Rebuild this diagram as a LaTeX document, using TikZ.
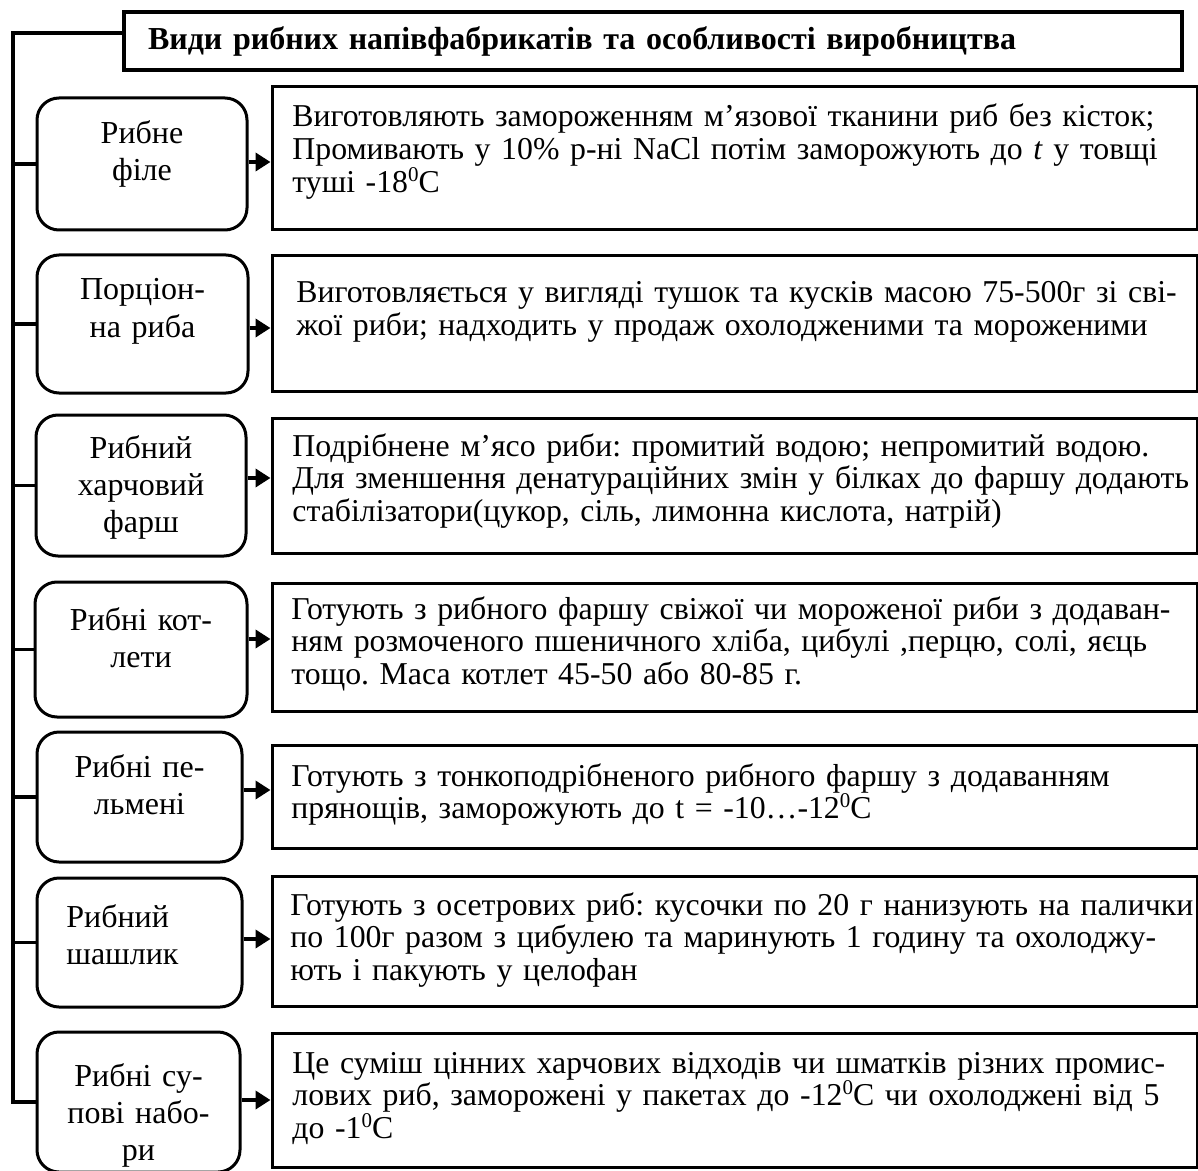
\documentclass[tikz,border=0pt]{standalone}
\usepackage{fontspec}
\setmainfont{Liberation Serif}
\usetikzlibrary{arrows.meta}
\frenchspacing
\newcommand{\zerosup}{\smash{\raisebox{0.36em}{\fontsize{10.5}{10}\selectfont 0}}}

\tikzset{
  box/.style={draw, line width=1.5pt, inner sep=0pt},
  rbox/.style={box, rounded corners=11pt},
  tbox/.style={box, minimum width=462.5pt},
  kind/.style={anchor=base, inner sep=0pt, text width=104pt, align=center,
    font=\fontsize{16}{18.5}\selectfont},
  desc/.style={anchor=base west, inner sep=0pt, text width=470pt, align=left,
    font=\fontsize{15.9}{16.4}\selectfont},
  arr/.style={-{Triangle[length=7.5pt,width=9pt]}, line width=2pt},
  rail/.style={line width=1.7pt},
}

\begin{document}
\begin{tikzpicture}[x=0.5pt, y=-0.5pt]
  \useasboundingbox (0,0) rectangle (1198,1171);

  % title
  \node[box, line width=1.8pt, minimum width=529pt, minimum height=29pt,
        text width=505pt, align=left, font=\fontsize{16}{18}\selectfont\bfseries]
        (ttl) at (653,41) {Види рибних напівфабрикатів та особливості виробництва};

  % kinds of fish products
  \node[rbox, minimum width=105pt, minimum height=66pt]   (r1) at (142,164) {};
  \node[rbox, minimum width=105.5pt, minimum height=69pt] (r2) at (142.5,324) {};
  \node[rbox, minimum width=105pt, minimum height=70.5pt] (r3) at (141,485.5) {};
  \node[rbox, minimum width=106pt, minimum height=67.5pt] (r4) at (141,649.5) {};
  \node[rbox, minimum width=102.5pt, minimum height=65pt] (r5) at (139.5,797) {};
  \node[rbox, minimum width=102.5pt, minimum height=64.5pt] (r6) at (139.5,942.5) {};
  \node[rbox, minimum width=101.5pt, minimum height=70pt] (r7) at (138.5,1102) {};

  \node[kind] (k1) at (142,144) {Рибне\\філе};
  \node[kind] (k2) at (142.5,300) {Порціон-\\на риба};
  \node[kind] (k3) at (141,458) {Рибний\\харчовий\\фарш};
  \node[kind] (k4) at (141,630) {Рибні кот-\\лети};
  \node[kind] (k5) at (139.5,777) {Рибні пе-\\льмені};
  \node[kind, anchor=base west, align=left] (k6) at (66,927) {Рибний\\шашлик};
  \node[kind] (k7) at (138.5,1086) {Рибні су-\\пові набо-\\ри};

  % descriptions
  \node[tbox, minimum height=71.5pt] (t1) at (734.5,158.5) {};
  \node[tbox, minimum height=67.5pt] (t2) at (734.5,323.5) {};
  \node[tbox, minimum height=67.5pt] (t3) at (734.5,485.5) {};
  \node[tbox, minimum height=64pt]   (t4) at (734.5,647) {};
  \node[tbox, minimum height=51.5pt] (t5) at (734.5,796.5) {};
  \node[tbox, minimum height=65pt]   (t6) at (734.5,941) {};
  \node[tbox, minimum height=67pt]   (t7) at (734.5,1100) {};

  \node[desc] (d1) at (292,127) {Виготовляють замороженням м’язової тканини риб без кісток;\\
    Промивають у 10\% р-ні NaCl потім заморожують до \textit{t} у товщі\\
    туші -18\zerosup C};
  \node[desc] (d2) at (296,303) {Виготовляється у вигляді тушок та кусків масою 75-500г зі сві-\\
    жої риби; надходить у продаж охолодженими та мороженими};
  \node[desc] (d3) at (292,456) {Подрібнене м’ясо риби: промитий водою; непромитий водою.\\
    Для зменшення денатураційних змін у білках до фаршу додають\\
    стабілізатори(цукор, сіль, лимонна кислота, натрій)};
  \node[desc] (d4) at (291,619) {Готують з рибного фаршу свіжої чи мороженої риби з додаван-\\
    ням розмоченого пшеничного хліба, цибулі ,перцю, солі, яєць\\
    тощо. Маса котлет 45-50 або 80-85 г.};
  \node[desc] (d5) at (291,786) {Готують з тонкоподрібненого рибного фаршу з додаванням\\
    прянощів, заморожують до t = -10…-12\zerosup C};
  \node[desc] (d6) at (290,915) {Готують з осетрових риб: кусочки по 20 г нанизують на палички\\
    по 100г разом з цибулею та маринують 1 годину та охолоджу-\\
    ють і пакують у целофан};
  \node[desc] (d7) at (292,1073) {Це суміш цінних харчових відходів чи шматків різних промис-\\
    лових риб, заморожені у пакетах до -12\zerosup C чи охолоджені від 5\\
    до -1\zerosup C};

  % rail on the left
  \coordinate (top) at (13,33);
  \draw[rail] (ttl.west |- top) -- (top) |- (r7.west);
  \draw[rail] (top |- r1.west) -- (r1.west);
  \draw[rail] (top |- r2.west) -- (r2.west);
  \draw[rail] (top |- r3.west) -- (r3.west);
  \draw[rail] (top |- r4.west) -- (r4.west);
  \draw[rail] (top |- r5.west) -- (r5.west);
  \draw[rail] (top |- r6.west) -- (r6.west);

  % arrows
  \coordinate (a1) at (0,162);
  \coordinate (a2) at (0,328);
  \coordinate (a3) at (0,478);
  \coordinate (a4) at (0,639);
  \coordinate (a5) at (0,790);
  \coordinate (a6) at (0,939);
  \coordinate (a7) at (0,1100);
  \draw[arr] (r1.east |- a1) -- (t1.west |- a1);
  \draw[arr] (r2.east |- a2) -- (t2.west |- a2);
  \draw[arr] (r3.east |- a3) -- (t3.west |- a3);
  \draw[arr] (r4.east |- a4) -- (t4.west |- a4);
  \draw[arr] (r5.east |- a5) -- (t5.west |- a5);
  \draw[arr] (r6.east |- a6) -- (t6.west |- a6);
  \draw[arr] (r7.east |- a7) -- (t7.west |- a7);
\end{tikzpicture}
\end{document}
